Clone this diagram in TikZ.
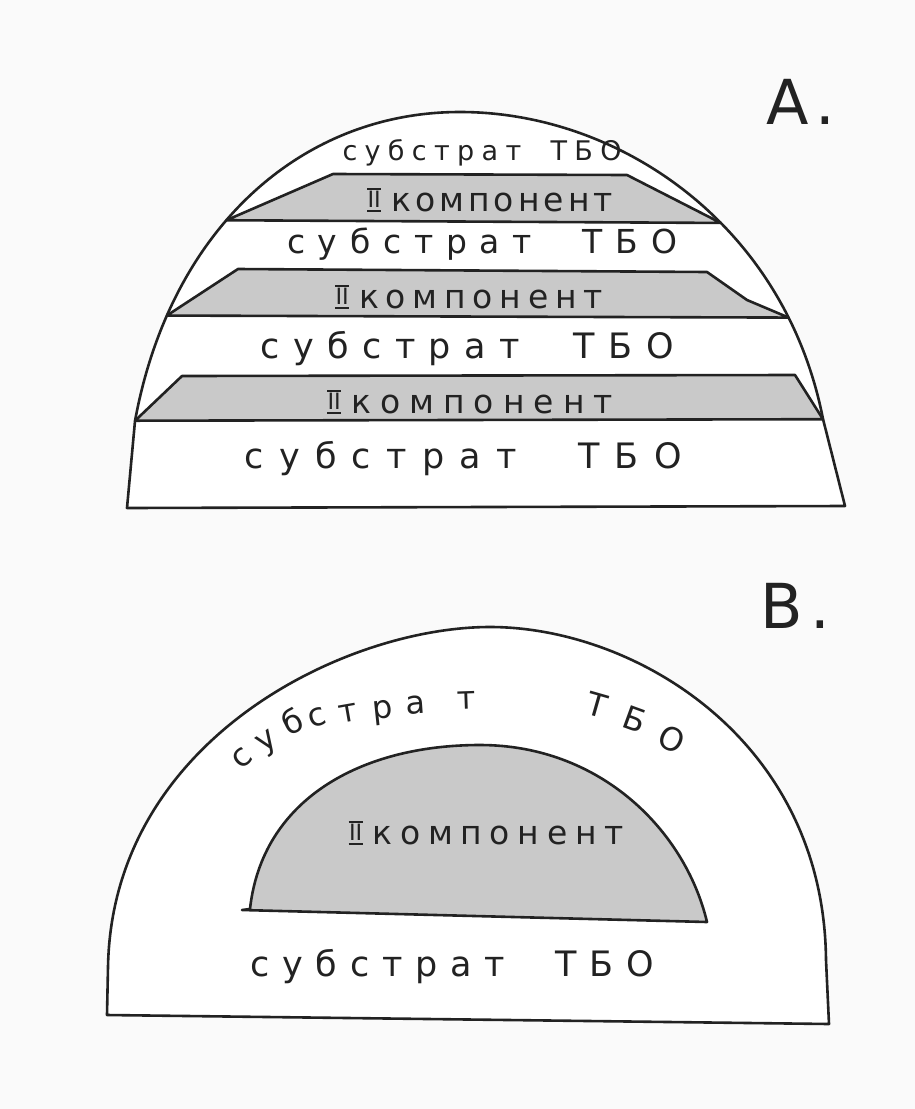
\documentclass[tikz,border=0pt]{standalone}
\usepackage{fontspec}
\setmainfont{DejaVu Sans}
\newfontfamily\hand{DejaVu Sans}
\newfontfamily\labfont{DejaVu Sans}
\usepackage{graphicx}
\usetikzlibrary{intersections}
\definecolor{ink}{HTML}{222222}
\definecolor{lead}{HTML}{C9C9C9}
\definecolor{paper}{HTML}{FAFAFA}
\newcommand\twoI{\vbox{\hrule height 2pt\kern 1.8pt\hbox{\kern0.5pt\scalebox{0.68}{II}\kern0.5pt}\kern 1.8pt\hrule height 2pt}}
\newcommand\subtbo[1]{\makebox[#1]{с\hfill у\hfill б\hfill с\hfill т\hfill р\hfill а\hfill т\hfill\hfill\hfill\hfill Т\hfill Б\hfill О}}
\newcommand\komp[1]{\makebox[#1]{\twoI\hspace{0.3em}к\hfill о\hfill м\hfill п\hfill о\hfill н\hfill е\hfill н\hfill т}}
\begin{document}
\begin{tikzpicture}[x=1pt,y=-1pt, line join=round, line cap=round,
  outline/.style={draw=ink, line width=2.6pt},
  band/.style={fill=lead, draw=ink, line width=2.6pt},
  lbl/.style={inner sep=0pt, text=ink},
  letter/.style={inner sep=0pt, text=ink, font=\hand\fontsize{32}{36}\selectfont, text height=0.55em, text depth=0pt},
  panellabel/.style={inner sep=0pt, text=ink, font=\labfont\fontsize{62}{66}\selectfont, anchor=base west}]
\fill[paper] (0,0) rectangle (915,1109);
\useasboundingbox (0,0) rectangle (915,1109);

% ---------- A ----------
\path[name path=domeA] (127,508) -- (135,421) .. controls (170,230) and (300,112) .. (460,112) .. controls (620,112) and (785,225) .. (823,419) -- (845,506);
\draw[outline, fill=white] (127,508) -- (135,421) .. controls (170,230) and (300,112) .. (460,112) .. controls (620,112) and (785,225) .. (823,419) -- (845,506) -- cycle;

\path[name path=l1] (0,219) -- (915,224);
\path[name path=l2] (0,315) -- (915,318);
\path[name path=l3] (0,421) -- (915,419);
\path[name intersections={of=domeA and l1, by={b1L,b1R}, sort by=l1}];
\path[name intersections={of=domeA and l2, by={b2L,b2R}, sort by=l2}];
\path[name intersections={of=domeA and l3, by={b3L,b3R}, sort by=l3}];

\draw[band] (b1L) -- (333,174) -- (627,175) -- (b1R) -- cycle;
\draw[band] (b2L) -- (238,269) -- (707,272) -- (747,300) -- (b2R) -- cycle;
\draw[band] (b3L) -- (182,376) -- (795,375) -- (b3R) -- cycle;

\node[lbl, font=\hand\fontsize{27}{30}\selectfont] (a1) at (482,153) {\subtbo{279pt}};
\node[lbl, font=\hand\fontsize{33}{36}\selectfont] (k1) at (490,200) {\komp{246pt}};
\node[lbl, font=\hand\fontsize{33}{36}\selectfont] (a2) at (482,244) {\subtbo{390pt}};
\node[lbl, font=\hand\fontsize{33}{36}\selectfont] (k2) at (469,297) {\komp{268pt}};
\node[lbl, font=\hand\fontsize{35}{38}\selectfont] (a3) at (467,349) {\subtbo{413pt}};
\node[lbl, font=\hand\fontsize{33}{36}\selectfont] (k3) at (470,402) {\komp{286pt}};
\node[lbl, font=\hand\fontsize{35}{38}\selectfont] (a4) at (463,459) {\subtbo{437pt}};

\node[panellabel] (labA) at (766,124) {А\hspace{0.12em}.};

% ---------- B ----------
\draw[outline, fill=white] (107,1015) -- (108,967) .. controls (112,740) and (345,627) .. (490,627) .. controls (635,627) and (824,740) .. (826,960) -- (829,1024) -- cycle;
\draw[band] (242,910) -- (250,909) .. controls (262,800) and (360,745) .. (480,745) .. controls (600,745) and (685,830) .. (707,922) -- cycle;

\foreach \ch/\x/\y/\a [count=\i] in {с/246/763/42, у/270/746/34, б/296/730/25, с/319/723/18, т/349/719/10, р/383/716/6, а/416/711/4, т/467/706/2, Т/595/714/-16, Б/632/728/-20, О/668/747/-25}
  \node[letter, rotate=\a] (bt\i) at (\x,\y) {\ch};

\node[lbl, font=\hand\fontsize{33}{36}\selectfont] (k4) at (486,833) {\komp{275pt}};
\node[lbl, font=\hand\fontsize{35}{38}\selectfont] (b2) at (452,967) {\subtbo{403pt}};

\node[panellabel] (labB) at (760,628) {В\hspace{0.12em}.};
\end{tikzpicture}
\end{document}
